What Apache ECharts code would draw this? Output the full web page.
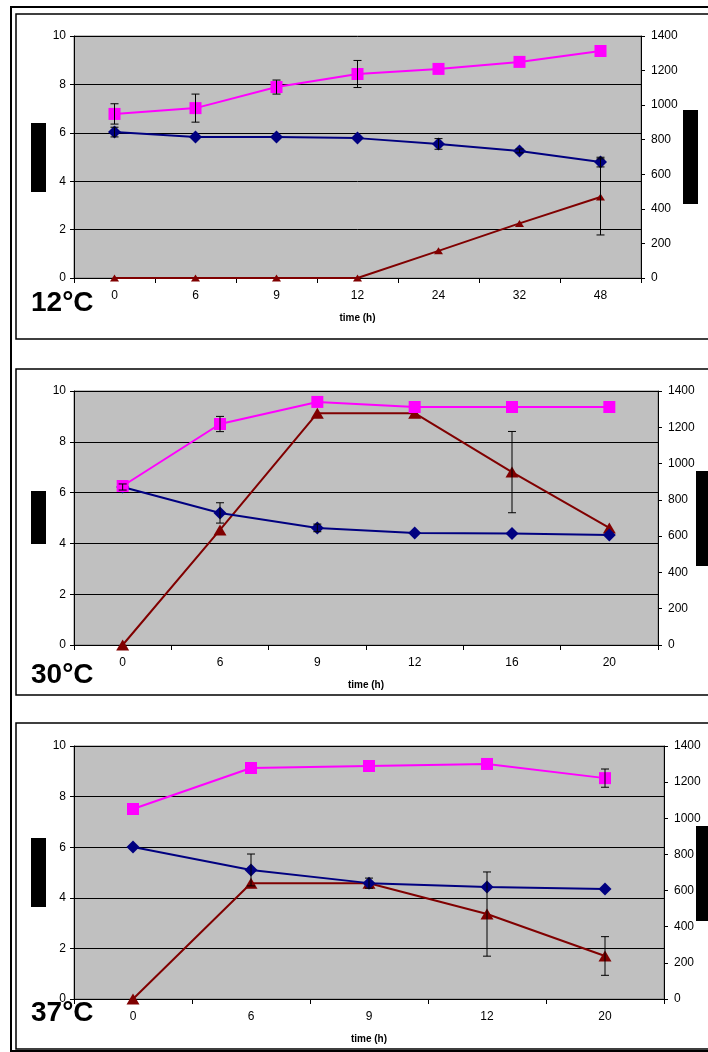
<!DOCTYPE html>
<html>
<head>
<meta charset="utf-8">
<script src="https://cdn.jsdelivr.net/npm/echarts@6/dist/echarts.min.js"></script>
<style>
html, body { margin: 0; padding: 0; background: #fff; }
#container { width: 708px; height: 1052px; }
</style>
</head>
<body>
<div id="container"></div>
<script>
// panel 1 - 12°C
var cats1 = ['0', '6', '9', '12', '24', '32', '48'];
var pink1 = [6.78, 7.02, 7.89, 8.43, 8.64, 8.93, 9.38];
var pinkErr1 = [0.42, 0.58, 0.29, 0.56, null, null, null];
var navy1 = [6.03, 5.83, 5.83, 5.78, 5.54, 5.25, 4.79];
var navyErr1 = [0.2, null, null, null, 0.22, 0.08, 0.2];
var red1 = [0, 0, 0, 0, 157, 316, 469];
var redErr1 = [null, null, null, null, null, null, 220];

// panel 2 - 30°C
var cats2 = ['0', '6', '9', '12', '16', '20'];
var pink2 = [6.26, 8.70, 9.57, 9.37, 9.37, 9.37];
var pinkErr2 = [null, 0.3, null, null, null, null];
var navy2 = [6.22, 5.20, 4.61, 4.41, 4.39, 4.33];
var navyErr2 = [0.12, 0.4, 0.15, null, null, null];
var red2 = [0, 634, 1278, 1278, 953, 645];
var redErr2 = [null, null, null, null, 224, null];

// panel 3 - 37°C
var cats3 = ['0', '6', '9', '12', '20'];
var pink3 = [7.51, 9.13, 9.21, 9.29, 8.73];
var pinkErr3 = [null, null, null, null, 0.36];
var navy3 = [6.01, 5.10, 4.58, 4.43, 4.35];
var navyErr3 = [null, 0.63, null, null, null];
var red3 = [0, 641, 641, 470, 238];
var redErr3 = [null, null, 28, 233, 107];

var leftTicks = [0, 10, 2];
var rightTicks = [0, 1400, 200];
var panelTitles = ['12°C', '30°C', '37°C'];

var FONT = '"Liberation Sans", Arial, sans-serif';
var colors = ['#FF00FF', '#000080', '#800000'];

var dom = document.getElementById('container');
var myChart = echarts.init(dom, null, {renderer: 'canvas'});

function errData(vals, errs) {
    var out = [];
    for (var i = 0; i < vals.length; i++) {
        if (errs[i] != null) out.push([i, vals[i] - errs[i], vals[i] + errs[i]]);
    }
    return out;
}

function renderErr(params, api) {
    var lo = api.coord([api.value(0), api.value(1)]);
    var hi = api.coord([api.value(0), api.value(2)]);
    var s = {stroke: '#000', lineWidth: 1};
    return {
        type: 'group',
        children: [
            {type: 'line', shape: {x1: lo[0], y1: lo[1], x2: hi[0], y2: hi[1]}, style: s},
            {type: 'line', shape: {x1: lo[0] - 4, y1: lo[1], x2: lo[0] + 4, y2: lo[1]}, style: s},
            {type: 'line', shape: {x1: hi[0] - 4, y1: hi[1], x2: hi[0] + 4, y2: hi[1]}, style: s}
        ]
    };
}

function plain(v) { return String(v); }

var panels = [
    {cats: cats1, pink: pink1, pinkErr: pinkErr1, navy: navy1, navyErr: navyErr1, red: red1, redErr: redErr1,
     grid: {left: 74, top: 36, width: 567, height: 242}, tri: 8},
    {cats: cats2, pink: pink2, pinkErr: pinkErr2, navy: navy2, navyErr: navyErr2, red: red2, redErr: redErr2,
     grid: {left: 74, top: 391, width: 584, height: 254}, tri: 12},
    {cats: cats3, pink: pink3, pinkErr: pinkErr3, navy: navy3, navyErr: navyErr3, red: red3, redErr: redErr3,
     grid: {left: 74, top: 746, width: 590, height: 253}, tri: 12}
];

var grids = [], xAxes = [], yAxes = [], series = [];

panels.forEach(function (p, k) {
    grids.push({
        left: p.grid.left, top: p.grid.top, width: p.grid.width, height: p.grid.height,
        show: true, backgroundColor: '#C0C0C0', borderColor: '#808080', borderWidth: 1
    });
    xAxes.push({
        type: 'category', gridIndex: k, data: p.cats, boundaryGap: true,
        name: 'time (h)', nameLocation: 'middle', nameGap: 35,
        nameTextStyle: {fontFamily: FONT, fontSize: 10, fontWeight: 'bold', color: '#000'},
        axisLine: {lineStyle: {color: '#000', width: 1}},
        axisTick: {show: true, interval: 0, length: 5, lineStyle: {color: '#000'}},
        axisLabel: {fontFamily: FONT, fontSize: 12, color: '#000', margin: 12},
        splitLine: {show: false}
    });
    yAxes.push({
        type: 'value', gridIndex: k, position: 'left',
        min: leftTicks[0], max: leftTicks[1], interval: leftTicks[2],
        axisLine: {show: true, lineStyle: {color: '#000'}},
        axisTick: {show: true, length: 4, lineStyle: {color: '#000'}},
        axisLabel: {fontFamily: FONT, fontSize: 12, color: '#000', margin: 8, formatter: plain},
        splitLine: {show: true, lineStyle: {color: '#000', width: 1}}
    });
    yAxes.push({
        type: 'value', gridIndex: k, position: 'right',
        min: rightTicks[0], max: rightTicks[1], interval: rightTicks[2],
        axisLine: {show: true, lineStyle: {color: '#000'}},
        axisTick: {show: true, length: 4, lineStyle: {color: '#000'}},
        axisLabel: {fontFamily: FONT, fontSize: 12, color: '#000', margin: 10, formatter: plain},
        splitLine: {show: false}
    });
    var yl = k * 2, yr = k * 2 + 1;
    series.push({
        type: 'line', xAxisIndex: k, yAxisIndex: yr, data: p.red,
        symbol: 'triangle', symbolSize: [p.tri + 1, p.tri - 1], showSymbol: true,
        lineStyle: {color: colors[2], width: 2}, itemStyle: {color: colors[2]}, z: 3, animation: false
    });
    series.push({
        type: 'line', xAxisIndex: k, yAxisIndex: yl, data: p.navy,
        symbol: 'diamond', symbolSize: [13, 13],
        lineStyle: {color: colors[1], width: 2}, itemStyle: {color: colors[1]}, z: 4, animation: false
    });
    series.push({
        type: 'line', xAxisIndex: k, yAxisIndex: yl, data: p.pink,
        symbol: 'rect', symbolSize: 12,
        lineStyle: {color: colors[0], width: 2}, itemStyle: {color: colors[0]}, z: 5, animation: false
    });
    [[p.pink, p.pinkErr, yl], [p.navy, p.navyErr, yl], [p.red, p.redErr, yr]].forEach(function (e) {
        series.push({
            type: 'custom', xAxisIndex: k, yAxisIndex: e[2], data: errData(e[0], e[1]),
            renderItem: renderErr, encode: {x: 0, y: [1, 2]}, z: 6, silent: true, animation: false
        });
    });
});

var graphics = [
    {type: 'rect', shape: {x: 11, y: 7, width: 760, height: 1044}, style: {fill: null, stroke: '#000', lineWidth: 2}, z: 100},
    {type: 'rect', shape: {x: 16, y: 14, width: 760, height: 325}, style: {fill: null, stroke: '#000', lineWidth: 1.5}, z: 100},
    {type: 'rect', shape: {x: 16, y: 369, width: 760, height: 326}, style: {fill: null, stroke: '#000', lineWidth: 1.5}, z: 100},
    {type: 'rect', shape: {x: 16, y: 723, width: 760, height: 326}, style: {fill: null, stroke: '#000', lineWidth: 1.5}, z: 100},
    // masked axis titles
    {type: 'rect', shape: {x: 31, y: 123, width: 15, height: 69}, style: {fill: '#000'}, z: 100},
    {type: 'rect', shape: {x: 683, y: 110, width: 15, height: 94}, style: {fill: '#000'}, z: 100},
    {type: 'rect', shape: {x: 31, y: 491, width: 15, height: 53}, style: {fill: '#000'}, z: 100},
    {type: 'rect', shape: {x: 696, y: 471, width: 16, height: 95}, style: {fill: '#000'}, z: 100},
    {type: 'rect', shape: {x: 31, y: 838, width: 15, height: 69}, style: {fill: '#000'}, z: 100},
    {type: 'rect', shape: {x: 696, y: 826, width: 16, height: 95}, style: {fill: '#000'}, z: 100}
];
var titleY = [305, 677, 1015];
panelTitles.forEach(function (t, k) {
    graphics.push({
        type: 'text', left: 31, top: titleY[k] - 16, z: 100,
        style: {text: t, fill: '#000', font: 'bold 28px ' + FONT}
    });
});

var option = {
    backgroundColor: '#fff',
    animation: false,
    grid: grids,
    xAxis: xAxes,
    yAxis: yAxes,
    series: series,
    graphic: graphics
};

if (option && typeof option === 'object') {
    myChart.setOption(option, true);
}
window.addEventListener('resize', function () {
    myChart.resize();
});
</script>
</body>
</html>
